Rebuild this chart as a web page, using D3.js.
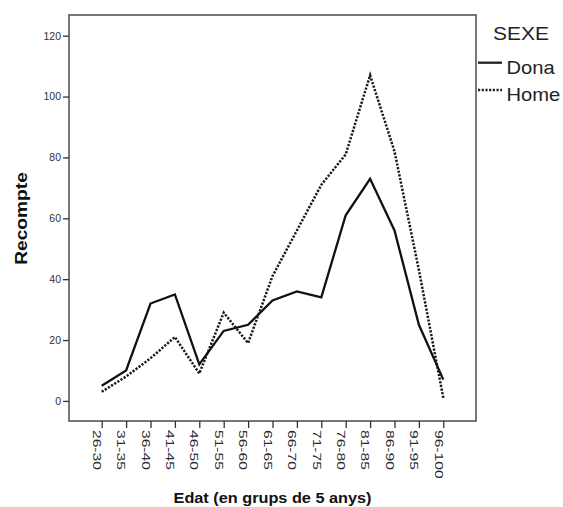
<!DOCTYPE html>
<html><head><meta charset="utf-8">
<script src="https://cdn.jsdelivr.net/npm/d3@7"></script>
<style>body{margin:0;background:#fff}svg{display:block}</style>
</head><body>
<svg id="chart" width="563" height="507"></svg>
<script>
const categories = ["26-30","31-35","36-40","41-45","46-50","51-55","56-60","61-65","66-70","71-75","76-80","81-85","86-90","91-95","96-100"];
const dona = [5,10,32,35,12,23,25,33,36,34,61,73,56,25,7];
const home = [3,8,14,21,9,29,19,41,56,71,81,107,82,43,1];
const yTicks = [0,20,40,60,80,100,120];
const seriesNames = ["Dona","Home"];

const svg = d3.select("#chart");
const L = 69, R = 476, T = 15, B = 421;
const x = d3.scalePoint().domain(categories).range([L, R]).padding(1.34);
const y = d3.scaleLinear().domain([-6.6, 126.8]).range([B, T]);

// frame
svg.append("rect").attr("x", L).attr("y", T).attr("width", R - L).attr("height", B - T)
  .attr("fill", "none").attr("stroke", "#555").attr("stroke-width", 1.6);

// y axis
const yAxis = svg.append("g").attr("transform", `translate(${L},0)`)
  .call(d3.axisLeft(y).tickValues(yTicks).tickSize(6).tickPadding(2).tickSizeOuter(0));
yAxis.select(".domain").remove();
yAxis.selectAll(".tick line").attr("stroke", "#333").attr("stroke-width", 1.3);
yAxis.selectAll(".tick text").attr("font-family", "Liberation Sans, Arial, sans-serif")
  .attr("font-size", 10.5).attr("fill", "#333");

// x axis
const xAxis = svg.append("g").attr("transform", `translate(0,${B})`)
  .call(d3.axisBottom(x).tickSize(7).tickSizeOuter(0));
xAxis.select(".domain").remove();
xAxis.selectAll(".tick line").attr("stroke", "#333").attr("stroke-width", 1.3);
xAxis.selectAll(".tick text")
  .attr("font-family", "Liberation Sans, Arial, sans-serif")
  .attr("font-size", 11).attr("fill", "#2a2a2a")
  .attr("text-anchor", "start")
  .attr("x", 0).attr("y", 0).attr("dy", 9.3)
  .attr("transform", "translate(0,9) rotate(90) scale(1.42,1)");

// lines
const line = d3.line().x((d, i) => x(categories[i])).y(d => y(d));
svg.append("path").datum(home).attr("d", line).attr("fill", "none")
  .attr("stroke", "#1a1a1a").attr("stroke-width", 2.5).attr("stroke-dasharray", "2.2,1.5");
svg.append("path").datum(dona).attr("d", line).attr("fill", "none")
  .attr("stroke", "#111").attr("stroke-width", 2.3).attr("stroke-linejoin", "miter");

// axis titles
svg.append("text").attr("transform", "translate(27,218.5) rotate(-90) scale(1.2,1)")
  .attr("text-anchor", "middle").attr("font-family", "Liberation Sans, Arial, sans-serif")
  .attr("font-weight", "bold").attr("font-size", 16).attr("fill", "#111").text("Recompte");
svg.append("text").attr("transform", "translate(272.5,503) scale(1.085,1)")
  .attr("text-anchor", "middle").attr("font-family", "Liberation Sans, Arial, sans-serif")
  .attr("font-weight", "bold").attr("font-size", 15).attr("fill", "#111").text("Edat (en grups de 5 anys)");

// legend
const lg = svg.append("g").attr("font-family", "Liberation Sans, Arial, sans-serif").attr("fill", "#222");
lg.append("text").attr("transform", "translate(493,39.5) scale(1.2,1)").attr("font-size", 17.5).text("SEXE");
const ly = [62.7, 90];
const lt = [74, 100.5];
seriesNames.forEach((n, i) => {
  lg.append("line").attr("x1", 478).attr("x2", 502).attr("y1", ly[i]).attr("y2", ly[i])
    .attr("stroke", "#222").attr("stroke-width", 2.3)
    .attr("stroke-dasharray", i === 1 ? "2.2,1.5" : null);
  lg.append("text").attr("transform", `translate(506.5,${lt[i]}) scale(1.12,1)`)
    .attr("font-size", 18).text(n);
});
</script>
</body></html>
